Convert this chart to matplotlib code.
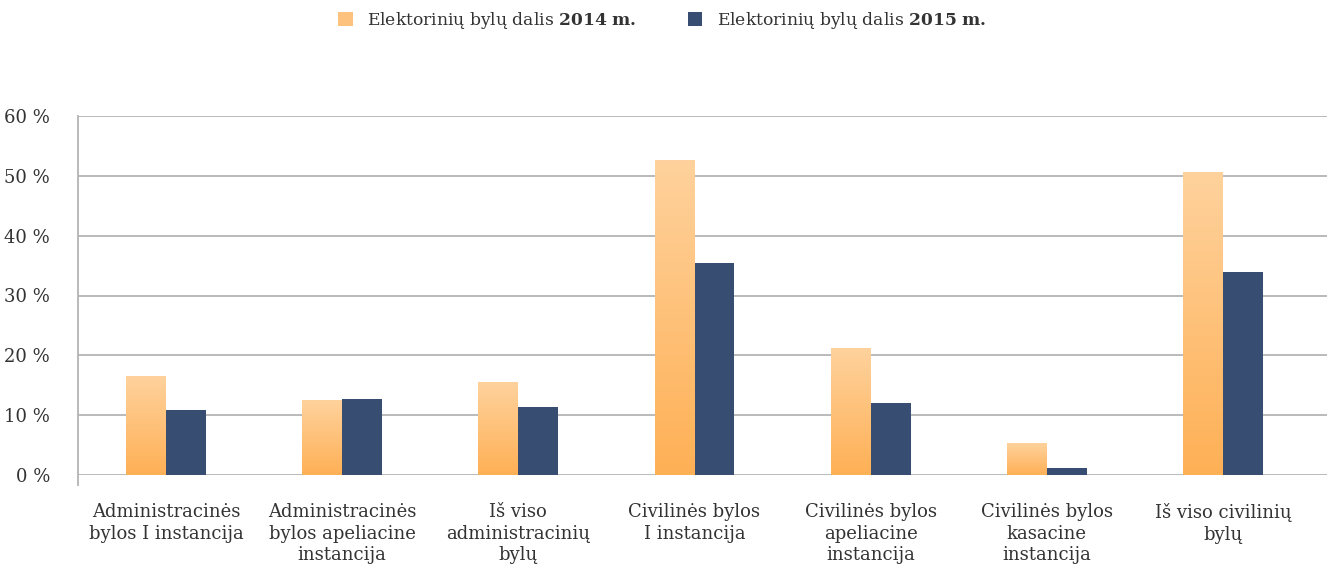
import numpy as np
import matplotlib
matplotlib.use("Agg")
import matplotlib.pyplot as plt
from matplotlib.colors import LinearSegmentedColormap
from matplotlib.patches import Patch

categories = [
    "Administracinės\nbylos I instancija",
    "Administracinės\nbylos apeliacine\ninstancija",
    "Iš viso\nadministracinių\nbylų",
    "Civilinės bylos\nI instancija",
    "Civilinės bylos\napeliacine\ninstancija",
    "Civilinės bylos\nkasacine\ninstancija",
    "Iš viso civilinių\nbylų",
]
values_2014 = [16.4, 12.5, 15.5, 52.5, 21.1, 5.2, 50.5]
values_2015 = [10.9, 12.7, 11.4, 35.4, 12.0, 1.2, 33.9]
series_labels = [r"Elektorinių bylų dalis $\mathbf{2014\ m.}$",
                 r"Elektorinių bylų dalis $\mathbf{2015\ m.}$"]
yticks = [0, 10, 20, 30, 40, 50, 60]

plt.rcParams['font.family'] = ['DejaVu Serif']
plt.rcParams['mathtext.fontset'] = 'custom'
plt.rcParams['mathtext.rm'] = 'DejaVu Serif'
plt.rcParams['mathtext.bf'] = 'DejaVu Serif:bold'

text_color = "#333333"
grid_color = "#B4B4B4"
navy = "#384D72"
orange_cmap = LinearSegmentedColormap.from_list("org", ["#FFB055", "#FED29D"])

fig = plt.figure(figsize=(13.27, 5.68), dpi=100)
ax = fig.add_axes([78 / 1327, 1 - 475 / 568, 1 - 78 / 1327, (475 - 116) / 568])

x = np.arange(len(categories))
w = 0.227
bars14 = ax.bar(x - w / 2, values_2014, w, color="none", edgecolor="none", zorder=3)
bars15 = ax.bar(x + w / 2, values_2015, w, color=navy, edgecolor="none", zorder=3)

grad = np.linspace(0, 1, 256).reshape(-1, 1)
for b in bars14:
    x0, wd, h = b.get_x(), b.get_width(), b.get_height()
    ax.imshow(grad, extent=[x0, x0 + wd, 0, h], origin="lower", aspect="auto",
              cmap=orange_cmap, zorder=3, interpolation="bilinear")

ax.set_xlim(-0.5, (1327 - 79) / 176 - 0.5)
ax.set_ylim(0, 60)
ax.set_yticks(yticks)
ax.set_yticklabels([f"{t} %" for t in yticks], fontsize=13, color=text_color)
ax.set_xticks(x)
ax.set_xticklabels(categories, fontsize=13, color=text_color, linespacing=1.27)
ax.tick_params(axis="both", length=0)
ax.tick_params(axis="x", pad=20)
ax.tick_params(axis="y", pad=20)
for lab in ax.get_yticklabels():
    lab.set_horizontalalignment("right")

ax.grid(axis="y", color=grid_color, linewidth=1.3, zorder=0)
for s in ["top", "right", "bottom"]:
    ax.spines[s].set_visible(False)
ax.spines["left"].set_color(grid_color)
ax.spines["left"].set_linewidth(1.3)
ax.spines["left"].set_bounds(-1.7, 60)

handles = [Patch(facecolor="#FEC27F", edgecolor="none"),
           Patch(facecolor=navy, edgecolor="none")]
fig.legend(handles, series_labels, loc="upper center", bbox_to_anchor=(0.499, 1.01),
           ncol=2, frameon=False, fontsize=12.3, handlelength=0.85, handleheight=0.85,
           columnspacing=3.0, handletextpad=0.85, labelcolor=text_color)

fig.savefig("out.png", dpi=100)
